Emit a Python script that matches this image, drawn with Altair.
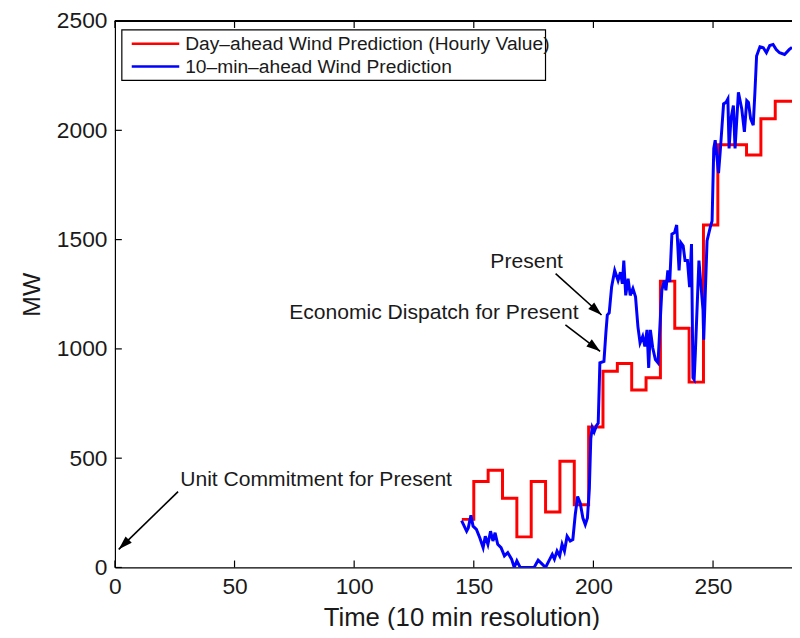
import math
import altair as alt
import pandas as pd

# ---------------- data ----------------
series_names = ["Day\u2013ahead Wind Prediction (Hourly Value)", "10\u2013min\u2013ahead Wind Prediction"]
series_colors = ["#ff0000", "#0000ff"]

# Day-ahead (hourly, step) prediction: start times of each hour and values (MW)
da_time = [145, 150, 156, 162, 168, 174, 180, 186, 192, 198, 204, 210, 216, 222,
           228, 234, 240, 246, 252, 258, 264, 270, 276, 283]
da_mw = [220, 393, 445, 317, 140, 393, 254, 486, 287, 643, 898, 933, 812, 868,
         1310, 1094, 848, 1567, 1934, 1934, 1887, 2053, 2133, 2133]

# 10-min-ahead prediction
tm_time = [144.9, 147.0, 147.7, 148.8, 149.7, 151.1, 152.5, 153.9, 154.8, 155.9, 157.0, 158.0,
           158.9, 160.0, 161.4, 162.8, 164.2, 165.8, 166.9, 168.0, 169.4, 172.0, 175.2, 176.9,
           178.6, 180.0, 181.4, 182.8, 183.7, 184.8, 185.9, 186.9, 187.9, 189.0, 190.3, 191.4,
           192.4, 193.4, 194.5, 195.6, 196.6, 197.5, 198.3, 198.9, 199.5, 200.3, 201.3, 202.0,
           202.7, 204.4, 205.2, 205.8, 206.6, 207.6, 208.9, 210.3, 211.3, 212.1, 212.7, 213.5,
           214.5, 215.4, 216.5, 217.6, 218.6, 219.5, 220.6, 221.5, 222.4, 223.1, 223.8, 224.8,
           225.9, 227.0, 228.6, 229.6, 230.3, 231.1, 231.9, 232.8, 233.9, 234.8, 235.8, 236.5,
           237.5, 238.3, 239.3, 240.2, 241.0, 241.6, 242.1, 242.6, 244.1, 245.8, 246.1, 247.5,
           248.8, 249.6, 250.3, 250.9, 252.3, 253.0, 254.4, 255.4, 256.2, 256.7, 257.5, 258.5,
           259.2, 260.6, 262.0, 263.1, 264.1, 264.8, 265.7, 266.8, 267.5, 268.2, 269.6, 271.0,
           272.3, 273.7, 275.1, 276.4, 277.8, 279.9, 281.9, 283.0]
tm_mw = [214, 166, 181, 239, 189, 174, 136, 91, 143, 106, 166, 121,
         159, 106, 91, 53, 68, 38, 0, 30, 0, 0, 0, 33,
         15, 0, 30, 60, 38, 75, 53, 106, 75, 143, 121, 128,
         241, 325, 294, 226, 196, 226, 362, 589, 640, 620, 650, 660,
         936, 943, 1072, 1155, 1165, 1283, 1359, 1313, 1351, 1298, 1404, 1245,
         1321, 1245, 1276, 1238, 1102, 1027, 1057, 1011, 1087, 913, 1087, 1004,
         951, 936, 1268, 1313, 1268, 1359, 1306, 1525, 1532, 1567, 1359, 1487,
         1472, 1404, 1404, 1283, 1480, 868, 860, 981, 1404, 1178, 1042, 1495,
         1555, 1585, 1917, 1955, 1804, 1902, 2121, 2128, 2144, 1917, 2053, 2113,
         1917, 2174, 2098, 1993, 2136, 2128, 2053, 2023, 2174, 2340, 2382, 2378,
         2355, 2388, 2393, 2370, 2355, 2347, 2370, 2380]

x_ticks = [0, 50, 100, 150, 200, 250]
y_ticks = [0, 500, 1000, 1500, 2000, 2500]

# annotations: text, text position, arrow start, arrow tip
ann_text = ["Unit Commitment for Present", "Economic Dispatch for Present", "Present"]
ann_text_t = [27.3, 133.3, 172.1]
ann_text_mw = [399, 1166, 1395]
ann_align = ["left", "center", "center"]
arrow_t0 = [26.4, 188.3, 184.2]
arrow_mw0 = [347, 1110, 1344]
arrow_t1 = [1.6, 202.8, 203.4]
arrow_mw1 = [83, 989, 1155]

# ---------------- layout ----------------
W, H = 684, 552
X_MAX, Y_MAX = 283, 2500
FONT = "Liberation Sans"
TXT = "#1a1a1a"

xs = alt.Scale(domain=[0, X_MAX], nice=False, zero=False)
ys = alt.Scale(domain=[0, Y_MAX], nice=False)

x_axis = alt.Axis(values=x_ticks, ticks=False, grid=False, domainColor="black", domainWidth=1.2,
                  labelFont=FONT, labelFontSize=23, labelColor=TXT, labelPadding=8, format="d",
                  title="Time (10 min resolution)", titleFont=FONT, titleFontSize=26,
                  titleFontWeight="normal", titleColor=TXT, titleX=350, titleY=59,
                  titleAlign="center", titleBaseline="alphabetic", labelFlush=False)
y_axis = alt.Axis(values=y_ticks, ticks=False, grid=False, domainColor="black", domainWidth=1.2,
                  labelFont=FONT, labelFontSize=23, labelColor=TXT, labelPadding=8, format="d",
                  title="MW", titleFont=FONT, titleFontSize=25, titleFontWeight="normal",
                  titleColor=TXT, titleX=-84, titleY=276, titleAlign="center",
                  titleBaseline="middle", titleAngle=270, labelFlush=False)


def X(field):
    return alt.X(field, scale=xs, axis=x_axis)


def Y(field):
    return alt.Y(field, scale=ys, axis=y_axis)


lines = pd.concat([
    pd.DataFrame({"t": da_time, "mw": da_mw, "series": series_names[0]}),
    pd.DataFrame({"t": tm_time, "mw": tm_mw, "series": series_names[1]}),
])
color = alt.Color("series:N", scale=alt.Scale(domain=series_names, range=series_colors), legend=None)

da_line = alt.Chart(lines[lines.series == series_names[0]]).mark_line(
    interpolate="step-after", strokeWidth=3, clip=True
).encode(x=X("t:Q"), y=Y("mw:Q"), color=color)

tm_line = alt.Chart(lines[lines.series == series_names[1]]).mark_line(
    strokeWidth=3, clip=True
).encode(x=X("t:Q"), y=Y("mw:Q"), color=color)

# inward ticks (MATLAB style) and top frame line
xt = pd.DataFrame({"t": x_ticks})
yt = pd.DataFrame({"mw": y_ticks})
tick_bottom = alt.Chart(xt).mark_rule(color="black", strokeWidth=1.2).encode(
    x=X("t:Q"), y=alt.value(H), y2=alt.value(H - 7))
tick_top = alt.Chart(xt).mark_rule(color="black", strokeWidth=1.2).encode(
    x=X("t:Q"), y=alt.value(0), y2=alt.value(7))
tick_left = alt.Chart(yt).mark_rule(color="black", strokeWidth=1.2).encode(
    y=Y("mw:Q"), x=alt.value(0), x2=alt.value(7))
top_frame = alt.Chart(xt).mark_rule(color="black", strokeWidth=1.2).encode(
    x=alt.value(0), x2=alt.value(W), y=alt.value(0))

# annotations
angles = []
for a0, b0, a1, b1 in zip(arrow_t0, arrow_mw0, arrow_t1, arrow_mw1):
    dx = (a1 - a0) * W / X_MAX
    dy = -(b1 - b0) * H / Y_MAX
    angles.append((math.degrees(math.atan2(dx, -dy)) + 360) % 360)
arr = pd.DataFrame({"t0": arrow_t0, "mw0": arrow_mw0, "t1": arrow_t1, "mw1": arrow_mw1, "ang": angles})
arrow_lines = alt.Chart(arr).mark_rule(color="black", strokeWidth=1.6).encode(
    x=X("t0:Q"), y=Y("mw0:Q"), x2="t1:Q", y2="mw1:Q")
arrow_heads = alt.Chart(arr).mark_point(
    shape="M0,0L-0.45,1.4L0.45,1.4Z", filled=True, color="black", opacity=1, size=400
).encode(x=X("t1:Q"), y=Y("mw1:Q"), angle=alt.Angle("ang:Q", scale=None))

texts = []
for txt, tt, mm, al in zip(ann_text, ann_text_t, ann_text_mw, ann_align):
    d = pd.DataFrame({"t": [tt], "mw": [mm], "label": [txt]})
    texts.append(alt.Chart(d).mark_text(font=FONT, fontSize=21.3, color=TXT, align=al, baseline="middle").encode(
        x=X("t:Q"), y=Y("mw:Q"), text="label:N"))

# manual legend (MATLAB style box)
leg_df = pd.DataFrame({"label": series_names})
legend_layers = [alt.Chart(leg_df.head(1)).mark_rect(fill="white", stroke="black", strokeWidth=1.2).encode(
    x=alt.value(7), x2=alt.value(435), y=alt.value(9), y2=alt.value(60))]
for i, (name, col) in enumerate(zip(series_names, series_colors)):
    d = pd.DataFrame({"label": [name]})
    yy = 23 + 23 * i
    legend_layers.append(alt.Chart(d).mark_rule(color=col, strokeWidth=2.6).encode(
        x=alt.value(17), x2=alt.value(65), y=alt.value(yy)))
    legend_layers.append(alt.Chart(d).mark_text(font=FONT, fontSize=19.4, color=TXT, align="left",
                                                baseline="middle").encode(
        x=alt.value(71), y=alt.value(yy), text="label:N"))

chart = alt.layer(
    da_line, tm_line, tick_bottom, tick_top, tick_left, top_frame,
    arrow_lines, arrow_heads, *texts, *legend_layers
).properties(
    width=W, height=H,
    autosize=alt.AutoSizeParams(type="none"),
    padding={"left": 108, "top": 10, "right": 0, "bottom": 60},
    background="white",
).configure_view(stroke=None)

chart.save("out.html", embed_options={"renderer": "svg", "actions": False})
